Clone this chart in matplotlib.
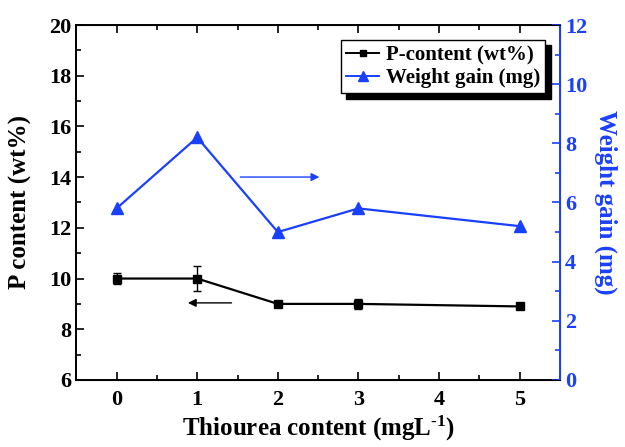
import matplotlib
matplotlib.use("Agg")
import matplotlib.pyplot as plt
from matplotlib.lines import Line2D
from matplotlib.ticker import MultipleLocator

plt.rcParams['font.family'] = ['Liberation Serif', 'DejaVu Serif']
plt.rcParams['font.weight'] = 'bold'
plt.rcParams['mathtext.fontset'] = 'custom'
plt.rcParams['mathtext.rm'] = 'Liberation Serif:bold'
plt.rcParams['mathtext.bf'] = 'Liberation Serif:bold'
plt.rcParams['mathtext.default'] = 'rm'

thiourea = [0, 1, 2, 3, 5]
p_content = [10.0, 10.0, 9.0, 9.0, 8.9]
p_err = [0.2, 0.5, 0.1, 0.2, 0.1]
weight_gain = [5.8, 8.2, 5.0, 5.8, 5.2]

blue = '#1a40ff'

fig = plt.figure(figsize=(6.25, 4.47), dpi=100)
ax = fig.add_axes([0.122, 0.150, 0.774, 0.794])
ax2 = ax.twinx()

ax.errorbar(thiourea, p_content, yerr=p_err, color='black', marker='s',
            markersize=6, lw=1.6, capsize=3, elinewidth=1, capthick=1)
ax2.plot(thiourea, weight_gain, color=blue, marker='^', markersize=8, lw=1.6)

ax.set_xlim(-0.5, 5.5)
ax.set_ylim(6, 20)
ax2.set_ylim(0, 12)
ax.xaxis.set_major_locator(MultipleLocator(1))
ax.xaxis.set_minor_locator(MultipleLocator(0.5))
ax.yaxis.set_major_locator(MultipleLocator(2))
ax.yaxis.set_minor_locator(MultipleLocator(1))
ax2.yaxis.set_major_locator(MultipleLocator(2))
ax2.yaxis.set_minor_locator(MultipleLocator(1))

ax.tick_params(which='both', direction='in', top=True, labelsize=16, width=1.2)
ax.tick_params(which='major', length=6)
ax.tick_params(which='minor', length=3.5)
ax.tick_params(axis='x', pad=7)
ax2.tick_params(which='both', direction='in', colors=blue, labelsize=16, width=1.2)
ax2.tick_params(which='major', length=6)
ax2.tick_params(which='minor', length=3.5)
for s in ['left', 'bottom', 'top']:
    ax.spines[s].set_linewidth(1.4)
ax2.spines['right'].set_color(blue)
ax2.spines['right'].set_linewidth(1.4)
ax2.spines['left'].set_visible(False)

ax.set_xlabel(r'Thiourea content (mgL$^{\text{-1}}$)', fontsize=18, fontweight='bold',
              labelpad=3)
ax.set_ylabel('P content (wt%)', fontsize=18, fontweight='bold', labelpad=12)
ax2.set_ylabel('Weight gain (mg)', fontsize=18, fontweight='bold', color=blue,
               rotation=-90, labelpad=22)

ax2.annotate('', xy=(2.55, 6.86), xytext=(1.5, 6.86),
             arrowprops=dict(arrowstyle='-|>', color=blue, lw=1, mutation_scale=12))
ax.annotate('', xy=(0.85, 9.04), xytext=(1.46, 9.04),
            arrowprops=dict(arrowstyle='-|>', color='black', lw=1, mutation_scale=12))

h1 = Line2D([], [], color='black', marker='s', markersize=5, lw=1.4)
h2 = Line2D([], [], color=blue, marker='^', markersize=7, lw=1.4)
leg = ax2.legend([h1, h2], ['P-content (wt%)', 'Weight gain (mg)'],
                 loc='upper right', bbox_to_anchor=(0.969, 0.958), borderaxespad=0,
                 fancybox=False,
                 shadow={'ox': 4, 'oy': -4, 'color': 'black', 'alpha': 1},
                 edgecolor='black', framealpha=1, handlelength=1.6,
                 handletextpad=0.3, borderpad=0.25, labelspacing=0.15,
                 prop={'size': 15, 'weight': 'bold'})
leg.get_frame().set_linewidth(1)

fig.savefig('out.png', dpi=100)
